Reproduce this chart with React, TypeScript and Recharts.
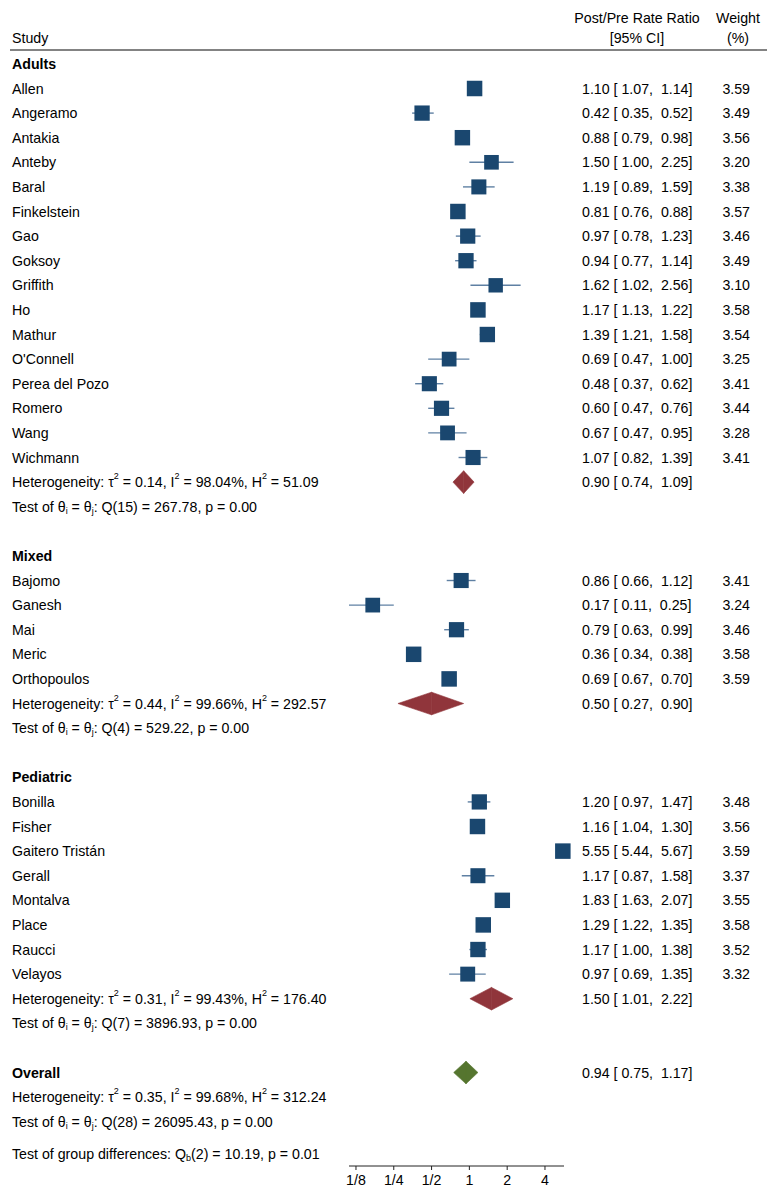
import type { ReactNode } from "react";
import { ScatterChart, Scatter, XAxis, YAxis, ErrorBar, ReferenceArea } from "recharts";

document.body.style.margin = "0";

const FONT = "'Liberation Sans', Arial, Helvetica, sans-serif";
const FONT_SIZE = 14.2;
const NAVY = "#1a476f";
const CI_LINE = "#5f80a3";
const MAROON = "#90353b";
const GREEN = "#55752f";

// Adults
const adultsStudies = [
  "Allen", "Angeramo", "Antakia", "Anteby", "Baral", "Finkelstein", "Gao", "Goksoy",
  "Griffith", "Ho", "Mathur", "O'Connell", "Perea del Pozo", "Romero", "Wang", "Wichmann",
];
const adultsRR = [1.1, 0.42, 0.88, 1.5, 1.19, 0.81, 0.97, 0.94, 1.62, 1.17, 1.39, 0.69, 0.48, 0.6, 0.67, 1.07];
const adultsLo = [1.07, 0.35, 0.79, 1.0, 0.89, 0.76, 0.78, 0.77, 1.02, 1.13, 1.21, 0.47, 0.37, 0.47, 0.47, 0.82];
const adultsHi = [1.14, 0.52, 0.98, 2.25, 1.59, 0.88, 1.23, 1.14, 2.56, 1.22, 1.58, 1.0, 0.62, 0.76, 0.95, 1.39];
const adultsWeight = [3.59, 3.49, 3.56, 3.2, 3.38, 3.57, 3.46, 3.49, 3.1, 3.58, 3.54, 3.25, 3.41, 3.44, 3.28, 3.41];

// Mixed
const mixedStudies = ["Bajomo", "Ganesh", "Mai", "Meric", "Orthopoulos"];
const mixedRR = [0.86, 0.17, 0.79, 0.36, 0.69];
const mixedLo = [0.66, 0.11, 0.63, 0.34, 0.67];
const mixedHi = [1.12, 0.25, 0.99, 0.38, 0.7];
const mixedWeight = [3.41, 3.24, 3.46, 3.58, 3.59];

// Pediatric
const pediatricStudies = [
  "Bonilla", "Fisher", "Gaitero Tristán", "Gerall", "Montalva", "Place", "Raucci", "Velayos",
];
const pediatricRR = [1.2, 1.16, 5.55, 1.17, 1.83, 1.29, 1.17, 0.97];
const pediatricLo = [0.97, 1.04, 5.44, 0.87, 1.63, 1.22, 1.0, 0.69];
const pediatricHi = [1.47, 1.3, 5.67, 1.58, 2.07, 1.35, 1.38, 1.35];
const pediatricWeight = [3.48, 3.56, 3.59, 3.37, 3.55, 3.58, 3.52, 3.32];

// subgroup summaries
const groupNames = ["Adults", "Mixed", "Pediatric"];
const groupRR = [0.9, 0.5, 1.5];
const groupLo = [0.74, 0.27, 1.01];
const groupHi = [1.09, 0.9, 2.22];
const groupTau2 = ["0.14", "0.44", "0.31"];
const groupI2 = ["98.04", "99.66", "99.43"];
const groupH2 = ["51.09", "292.57", "176.40"];
const groupDf = [15, 4, 7];
const groupQ = ["267.78", "529.22", "3896.93"];
const groupP = ["0.00", "0.00", "0.00"];

// overall
const overallRR = 0.94;
const overallLo = 0.75;
const overallHi = 1.17;
const overallTau2 = "0.35";
const overallI2 = "99.68";
const overallH2 = "312.24";
const overallDf = 28;
const overallQ = "26095.43";
const overallP = "0.00";
const diffDf = 2;
const diffQ = "10.19";
const diffP = "0.01";

const xTicks = [0.125, 0.25, 0.5, 1, 2, 4];
const xTickLabels = ["1/8", "1/4", "1/2", "1", "2", "4"];

const LABEL_X = 12;
const EST_X = 582;
const WT_X = 750;

const fmt = (v: number) => v.toFixed(2);
const ciText = (rr: number, lo: number, hi: number) => `${fmt(rr)} [ ${fmt(lo)},  ${fmt(hi)}]`;

const T = ({ x, y, anchor = "start", bold, children }: {
  x: number; y: number; anchor?: "start" | "middle" | "end"; bold?: boolean; children: ReactNode;
}) => (
  <text
    x={x}
    y={y}
    textAnchor={anchor}
    dominantBaseline="central"
    fontSize={FONT_SIZE}
    fontFamily={FONT}
    fontWeight={bold ? 700 : 400}
    fill="#000"
    style={{ whiteSpace: "pre" }}
  >
    {children}
  </text>
);

// rich text: [text, "sup" | "sub" | undefined]
type Seg = [string, ("sup" | "sub")?];
const SHIFT = { sup: -6, sub: 4 };
const rich = (segs: Seg[]) => {
  let cur = 0;
  return segs.map(([t, kind], i) => {
    const target = kind ? SHIFT[kind] : 0;
    const dy = target - cur;
    cur = target;
    return (
      <tspan key={i} dy={dy || undefined} fontSize={kind ? 9 : undefined}>
        {t}
      </tspan>
    );
  });
};

const hetLine = (tau2: string, i2: string, h2: string) =>
  rich([
    ["Heterogeneity: τ"], ["2", "sup"], [` = ${tau2}, I`], ["2", "sup"],
    [` = ${i2}%, H`], ["2", "sup"], [` = ${h2}`],
  ]);
const testLine = (df: number, q: string, p: string) =>
  rich([["Test of θ"], ["i", "sub"], [" = θ"], ["j", "sub"], [`: Q(${df}) = ${q}, p = ${p}`]]);

// ---- build rows ----
type Point = { rr: number; row: number; err: [number, number]; weight: number };
type Diamond = { row: number; rr: number; lo: number; hi: number; color: string };

const studyPoints: Point[] = [];
const diamonds: Diamond[] = [];
const rowRender = new Map<number, (y: number) => ReactNode>();

rowRender.set(-2.87, (y) => (
  <>
    <T x={637} y={y} anchor="middle">Post/Pre Rate Ratio</T>
    <T x={738} y={y} anchor="middle">Weight</T>
  </>
));
rowRender.set(-2.05, (y) => (
  <>
    <T x={LABEL_X} y={y}>Study</T>
    <T x={637} y={y} anchor="middle">[95% CI]</T>
    <T x={738} y={y} anchor="middle">(%)</T>
  </>
));
rowRender.set(-1.565, (y) => <line x1={10} x2={767} y1={y} y2={y} stroke="#5a5a5a" strokeWidth={1.5} />);

const groups = [
  { studies: adultsStudies, rr: adultsRR, lo: adultsLo, hi: adultsHi, wt: adultsWeight },
  { studies: mixedStudies, rr: mixedRR, lo: mixedLo, hi: mixedHi, wt: mixedWeight },
  { studies: pediatricStudies, rr: pediatricRR, lo: pediatricLo, hi: pediatricHi, wt: pediatricWeight },
];

let r = -1;
groups.forEach((g, gi) => {
  rowRender.set(r, (y) => <T x={LABEL_X} y={y} bold>{groupNames[gi]}</T>);
  r += 1;
  g.studies.forEach((name, i) => {
    const rr = g.rr[i];
    studyPoints.push({ rr, row: r, err: [rr - g.lo[i], g.hi[i] - rr], weight: g.wt[i] });
    rowRender.set(r, (y) => (
      <>
        <T x={LABEL_X} y={y}>{name}</T>
        <T x={EST_X} y={y}>{ciText(rr, g.lo[i], g.hi[i])}</T>
        <T x={WT_X} y={y} anchor="end">{fmt(g.wt[i])}</T>
      </>
    ));
    r += 1;
  });
  diamonds.push({ row: r, rr: groupRR[gi], lo: groupLo[gi], hi: groupHi[gi], color: MAROON });
  rowRender.set(r, (y) => (
    <>
      <T x={LABEL_X} y={y}>{hetLine(groupTau2[gi], groupI2[gi], groupH2[gi])}</T>
      <T x={EST_X} y={y}>{ciText(groupRR[gi], groupLo[gi], groupHi[gi])}</T>
    </>
  ));
  r += 1;
  rowRender.set(r, (y) => <T x={LABEL_X} y={y}>{testLine(groupDf[gi], groupQ[gi], groupP[gi])}</T>);
  r += 2;
});

diamonds.push({ row: r, rr: overallRR, lo: overallLo, hi: overallHi, color: GREEN });
rowRender.set(r, (y) => (
  <>
    <T x={LABEL_X} y={y} bold>Overall</T>
    <T x={EST_X} y={y}>{ciText(overallRR, overallLo, overallHi)}</T>
  </>
));
rowRender.set(r + 1, (y) => <T x={LABEL_X} y={y}>{hetLine(overallTau2, overallI2, overallH2)}</T>);
rowRender.set(r + 2, (y) => <T x={LABEL_X} y={y}>{testLine(overallDf, overallQ, overallP)}</T>);
rowRender.set(r + 3.3, (y) => (
  <T x={LABEL_X} y={y}>
    {rich([["Test of group differences: Q"], ["b", "sub"], [`(${diffDf}) = ${diffQ}, p = ${diffP}`]])}
  </T>
));

const rowTicks = Array.from(rowRender.keys()).sort((a, b) => a - b);

const RowTick = (props: any) => {
  const render = rowRender.get(props.payload?.value);
  return <g>{render ? render(props.y) : null}</g>;
};

const squareShape = (p: any) => {
  const s = 15.5 * Math.sqrt(p.payload.weight / 3.59);
  return <rect x={p.cx - s / 2} y={p.cy - s / 2} width={s} height={s} fill={NAVY} />;
};

const halfDiamond = (color: string, side: "left" | "right") => (p: any) => {
  const { x, y, width: w, height: h } = p;
  const pts =
    side === "left"
      ? `${x},${y + h / 2} ${x + w},${y} ${x + w},${y + h}`
      : `${x},${y} ${x + w},${y + h / 2} ${x},${y + h}`;
  return <polygon points={pts} fill={color} stroke={color} strokeWidth={0.6} />;
};

const DIAMOND_HALF = 0.46;

export default function App() {
  return (
    <div style={{ width: 777, height: 1203, background: "#fff" }}>
      <ScatterChart width={777} height={1203} margin={{ top: 14.7, right: 213, bottom: 7, left: 0 }}>
        <XAxis
          type="number"
          dataKey="rr"
          scale="log"
          domain={[0.116, 5.64]}
          ticks={xTicks}
          interval={0}
          tickFormatter={(v: number) => xTickLabels[xTicks.indexOf(v)] ?? String(v)}
          tickSize={4}
          tickMargin={5}
          stroke="#222"
          tick={{ fill: "#000", fontSize: FONT_SIZE, fontFamily: FONT }}
          height={30}
        />
        <YAxis
          type="number"
          dataKey="row"
          domain={[-3, 43.8]}
          reversed
          ticks={rowTicks}
          interval={0}
          width={349}
          axisLine={false}
          tickLine={false}
          tick={RowTick}
        />
        {diamonds.map((d, i) => (
          <ReferenceArea
            key={`dl${i}`}
            x1={d.lo}
            x2={d.rr}
            y1={d.row - DIAMOND_HALF}
            y2={d.row + DIAMOND_HALF}
            shape={halfDiamond(d.color, "left")}
          />
        ))}
        {diamonds.map((d, i) => (
          <ReferenceArea
            key={`dr${i}`}
            x1={d.rr}
            x2={d.hi}
            y1={d.row - DIAMOND_HALF}
            y2={d.row + DIAMOND_HALF}
            shape={halfDiamond(d.color, "right")}
          />
        ))}
        <Scatter data={studyPoints} shape={squareShape} isAnimationActive={false}>
          <ErrorBar
            dataKey="err"
            direction="x"
            width={0}
            stroke={CI_LINE}
            strokeWidth={1.4}
            isAnimationActive={false}
          />
        </Scatter>
      </ScatterChart>
    </div>
  );
}
